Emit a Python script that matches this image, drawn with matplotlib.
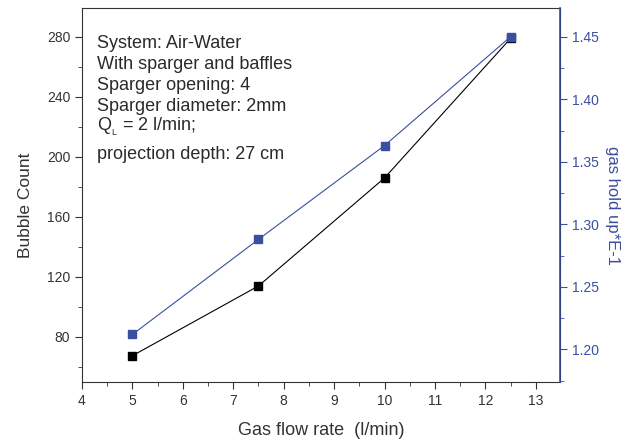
import matplotlib
matplotlib.use('Agg')
import matplotlib.pyplot as plt
from matplotlib.ticker import MultipleLocator

plt.rcParams['font.family'] = ['Liberation Sans', 'DejaVu Sans']
plt.rcParams['mathtext.fontset'] = 'custom'
plt.rcParams['mathtext.rm'] = 'Liberation Sans'

gas_flow = [5, 7.5, 10, 12.5]
bubble_count = [67.5, 114, 186, 279]
gas_holdup = [1.212, 1.288, 1.363, 1.450]

info_lines = ['System: Air-Water',
              'With sparger and baffles',
              'Sparger opening: 4',
              'Sparger diameter: 2mm',
              r'Q$_{_\mathrm{L}}$ = 2 l/min;',
              'projection depth: 27 cm']
info_y = [0.906, 0.850, 0.794, 0.737, 0.682, 0.607]

blue = '#3a4fa0'
grey = '#333333'

fig = plt.figure(figsize=(6.38, 4.41), dpi=100)
ax = fig.add_axes([0.1285, 0.1338, 0.7492, 0.8481])
ax2 = ax.twinx()

ax.plot(gas_flow, bubble_count, color='black', lw=0.8, marker='s', ms=6, zorder=3)
ax2.plot(gas_flow, gas_holdup, color=blue, lw=0.8, marker='s', ms=6,
         markerfacecolor=blue, markeredgecolor=blue)

ax.set_xlim(4, 13.48)
ax.set_ylim(50, 299.3)
ax2.set_ylim(1.174, 1.473)

ax.xaxis.set_major_locator(MultipleLocator(1))
ax.xaxis.set_minor_locator(MultipleLocator(0.5))
ax.yaxis.set_major_locator(MultipleLocator(40))
ax.yaxis.set_minor_locator(MultipleLocator(20))
ax2.yaxis.set_major_locator(MultipleLocator(0.05))
ax2.yaxis.set_minor_locator(MultipleLocator(0.025))
ax2.yaxis.set_major_formatter(plt.FormatStrFormatter('%.2f'))

ax.tick_params(axis='x', which='both', direction='out', top=False, labelsize=10,
               colors=grey, labelcolor=grey)
ax.tick_params(axis='x', which='major', length=5)
ax.tick_params(axis='x', which='minor', length=3)
ax2.tick_params(axis='x', which='both', top=True, bottom=False, labeltop=False,
                labelbottom=False, direction='in', colors=grey)
ax2.tick_params(axis='x', which='major', length=5)
ax2.tick_params(axis='x', which='minor', length=3)
ax.tick_params(axis='y', which='major', direction='out', length=5, labelsize=10,
               colors=grey)
ax.tick_params(axis='y', which='minor', direction='out', length=3, colors=grey)
ax2.tick_params(axis='y', which='major', direction='out', length=5, labelsize=10,
                colors=blue)
ax2.tick_params(axis='y', which='minor', direction='out', length=3, colors=blue)

for s in ['left', 'bottom', 'top']:
    ax.spines[s].set_color(grey)
ax2.spines['right'].set_color(blue)
ax2.spines['right'].set_linewidth(1.2)
for s in ['left', 'bottom', 'top']:
    ax2.spines[s].set_visible(False)

ax.set_xlabel('Gas flow rate  (l/min)', fontsize=13, color=grey, labelpad=10)
ax.set_ylabel('Bubble Count', fontsize=12.5, color=grey, labelpad=10)
ax2.set_ylabel('gas hold up*E-1', fontsize=12, color=blue, rotation=270, labelpad=15)
ax.yaxis.label.set_y(0.473)
ax2.yaxis.label.set_y(0.473)

for line, y in zip(info_lines, info_y):
    ax.text(0.032, y, line, transform=ax.transAxes, fontsize=13, color='#2a2a2a',
            va='center', ha='left')

fig.savefig('out.png', dpi=100)
